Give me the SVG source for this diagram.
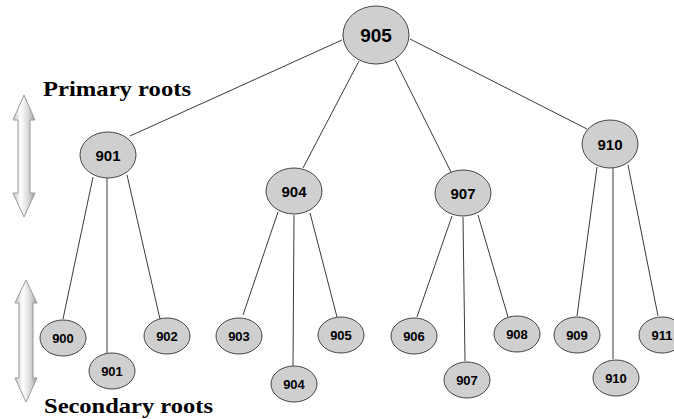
<svg xmlns="http://www.w3.org/2000/svg" width="674" height="419" viewBox="0 0 674 419">
  <defs>
    <linearGradient id="shaft" x1="0" y1="0" x2="1" y2="0">
      <stop offset="0" stop-color="#c4c4c4"/>
      <stop offset="0.35" stop-color="#ffffff"/>
      <stop offset="0.7" stop-color="#d8d8d8"/>
      <stop offset="1" stop-color="#9a9a9a"/>
    </linearGradient>
  </defs>
  <style>
    .edge { stroke: #3a3a3a; stroke-width: 1; fill: none; }
    .node ellipse { fill: #cfcfcf; stroke: #444; stroke-width: 1; }
    .node text { font-family: "Liberation Sans", Arial, sans-serif; font-weight: bold; fill: #000; text-anchor: middle; dominant-baseline: central; }
    .top text { font-size: 19px; }
    .mid text { font-size: 15px; }
    .leaf text { font-size: 13px; }
    .label { font-family: "Liberation Serif", "Times New Roman", serif; font-weight: bold; font-size: 21px; fill: #000; }
    .arrow { fill: url(#shaft); stroke: #9a9a9a; stroke-width: 1; }
  </style>

  <rect width="674" height="419" fill="#fff"/>

  <!-- side labels and double arrows -->
  <text class="label" x="43" y="96" textLength="148" lengthAdjust="spacingAndGlyphs">Primary roots</text>
  <text class="label" x="44" y="413" textLength="169" lengthAdjust="spacingAndGlyphs">Secondary roots</text>
  <path class="arrow" d="M24,95 L35,120 L30,120 L30,193 L35,193 L24,217 L13,193 L18,193 L18,120 L13,120 Z"/>
  <path class="arrow" d="M26,280 L37,303 L33,303 L33,378 L37,378 L26,402 L15,378 L19,378 L19,303 L15,303 Z"/>

  <!-- connectors -->
  <g id="connectors">
    <line class="edge" x1="342" y1="40" x2="130" y2="136"/>
    <line class="edge" x1="359" y1="61" x2="303" y2="168"/>
    <line class="edge" x1="395" y1="60" x2="451" y2="172"/>
    <line class="edge" x1="410" y1="39" x2="587" y2="129"/>

    <line class="edge" x1="93" y1="177" x2="63" y2="319"/>
    <line class="edge" x1="107" y1="178" x2="107" y2="353"/>
    <line class="edge" x1="127" y1="175" x2="160" y2="319"/>

    <line class="edge" x1="278" y1="212" x2="243" y2="315"/>
    <line class="edge" x1="294" y1="215" x2="293" y2="367"/>
    <line class="edge" x1="310" y1="213" x2="337" y2="317"/>

    <line class="edge" x1="452" y1="216" x2="417" y2="317"/>
    <line class="edge" x1="463" y1="217" x2="465" y2="361"/>
    <line class="edge" x1="478" y1="215" x2="508" y2="317"/>

    <line class="edge" x1="597" y1="167" x2="577" y2="316"/>
    <line class="edge" x1="613" y1="168" x2="613" y2="359"/>
    <line class="edge" x1="628" y1="165" x2="658" y2="316"/>
  </g>

  <!-- root -->
  <g id="n905" class="node top"><ellipse cx="376" cy="35" rx="33" ry="29"/><text x="376" y="35">905</text></g>

  <!-- primary roots -->
  <g id="n901" class="node mid"><ellipse cx="108" cy="155" rx="28" ry="23"/><text x="108" y="155">901</text></g>
  <g id="n904" class="node mid"><ellipse cx="294" cy="191" rx="28" ry="23"/><text x="294" y="191">904</text></g>
  <g id="n907" class="node mid"><ellipse cx="463" cy="193" rx="28" ry="23"/><text x="463" y="193">907</text></g>
  <g id="n910" class="node mid"><ellipse cx="610" cy="144" rx="28" ry="24"/><text x="610" y="144">910</text></g>

  <!-- secondary roots -->
  <g id="s900" class="node leaf"><ellipse cx="63" cy="338" rx="23" ry="18"/><text x="63" y="338">900</text></g>
  <g id="s901" class="node leaf"><ellipse cx="112" cy="371" rx="23" ry="18"/><text x="112" y="371">901</text></g>
  <g id="s902" class="node leaf"><ellipse cx="167" cy="336" rx="23" ry="18"/><text x="167" y="336">902</text></g>
  <g id="s903" class="node leaf"><ellipse cx="239" cy="336" rx="23" ry="18"/><text x="239" y="336">903</text></g>
  <g id="s904" class="node leaf"><ellipse cx="294" cy="384" rx="23" ry="18"/><text x="294" y="384">904</text></g>
  <g id="s905" class="node leaf"><ellipse cx="341" cy="335" rx="23" ry="18"/><text x="341" y="335">905</text></g>
  <g id="s906" class="node leaf"><ellipse cx="414" cy="336" rx="23" ry="18"/><text x="414" y="336">906</text></g>
  <g id="s907" class="node leaf"><ellipse cx="467" cy="380" rx="23" ry="18"/><text x="467" y="380">907</text></g>
  <g id="s908" class="node leaf"><ellipse cx="517" cy="334" rx="23" ry="18"/><text x="517" y="334">908</text></g>
  <g id="s909" class="node leaf"><ellipse cx="577" cy="335" rx="23" ry="18"/><text x="577" y="335">909</text></g>
  <g id="s910" class="node leaf"><ellipse cx="616" cy="378" rx="23" ry="18"/><text x="616" y="378">910</text></g>
  <g id="s911" class="node leaf"><ellipse cx="662" cy="335" rx="23" ry="18"/><text x="662" y="335">911</text></g>
</svg>
